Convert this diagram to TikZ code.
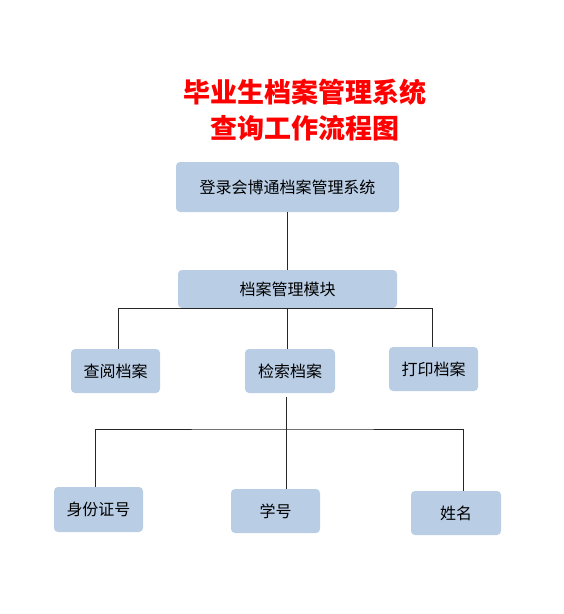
\documentclass[tikz,border=0pt]{standalone}
\usepackage{fontspec}
\setmainfont{Noto Sans CJK SC}
\usepackage{xcolor}
\usetikzlibrary{positioning}
\definecolor{boxblue}{HTML}{B9CDE5}
\tikzset{
	block/.style={fill=boxblue, rounded corners=4pt, inner sep=0pt},
	link/.style={draw=black!85, line width=0.8pt}
}

\begin{document}
\begin{tikzpicture}[x=1pt, y=-1pt]
		\useasboundingbox (0,0) rectangle (564,614);
		
		\node[align=center, text=red, font=\fontsize{27}{36}\selectfont\bfseries] (title) at (305,110) {毕业生档案管理系统 \\ 查询工作流程图};
		
		\node[block, minimum width=223pt, minimum height=50pt] (login) at (287.5,187) {};
		\node[font=\fontsize{16}{19}\selectfont] at (login) {登录会博通档案管理系统};
		
		\node[block, minimum width=219pt, minimum height=38pt] (module) at (287.5,289) {};
		\node[font=\fontsize{16}{19}\selectfont] at (module) {档案管理模块};
		
		\node[block, minimum width=89pt, minimum height=44pt] (view) at (115.5,371) {};
		\node[font=\fontsize{16}{19}\selectfont] at (view) {查阅档案};
		
		\node[block, minimum width=90pt, minimum height=44pt] (search) at (290,371) {};
		\node[font=\fontsize{16}{19}\selectfont] at (search) {检索档案};
		
		\node[block, minimum width=89pt, minimum height=44pt] (print) at (433.5,369) {};
		\node[font=\fontsize{16}{19}\selectfont] at (print) {打印档案};
		
		\node[block, minimum width=89pt, minimum height=45pt] (idcard) at (98.5,509.5) {};
		\node[font=\fontsize{16}{19}\selectfont] at (idcard) {身份证号};
		
		\node[block, minimum width=89pt, minimum height=44pt] (number) at (275.5,511) {};
		\node[font=\fontsize{16}{19}\selectfont] at (number) {学号};
		
		\node[block, minimum width=90pt, minimum height=44pt] (name) at (456,513) {};
		\node[font=\fontsize{16}{19}\selectfont] at (name) {姓名};
		
		\coordinate (split) at (286,429);
		
		\draw[link] (login.south)  -- (module.north);
		\draw[link] ([xshift=2.5pt]view.north) |- (module.south) -| ([xshift=-1.5pt]print.north);
		\draw[link] (module.south) -- (module.south |- search.north);
		\draw[link] (search.south) ++(-4,4) -- (split);
		\draw[link] ([xshift=-3.5pt]idcard.north) |- (split) -| ([xshift=7pt]name.north);
		\draw[link] (split)        -- (split |- number.north);
	\end{tikzpicture}
\end{document}
